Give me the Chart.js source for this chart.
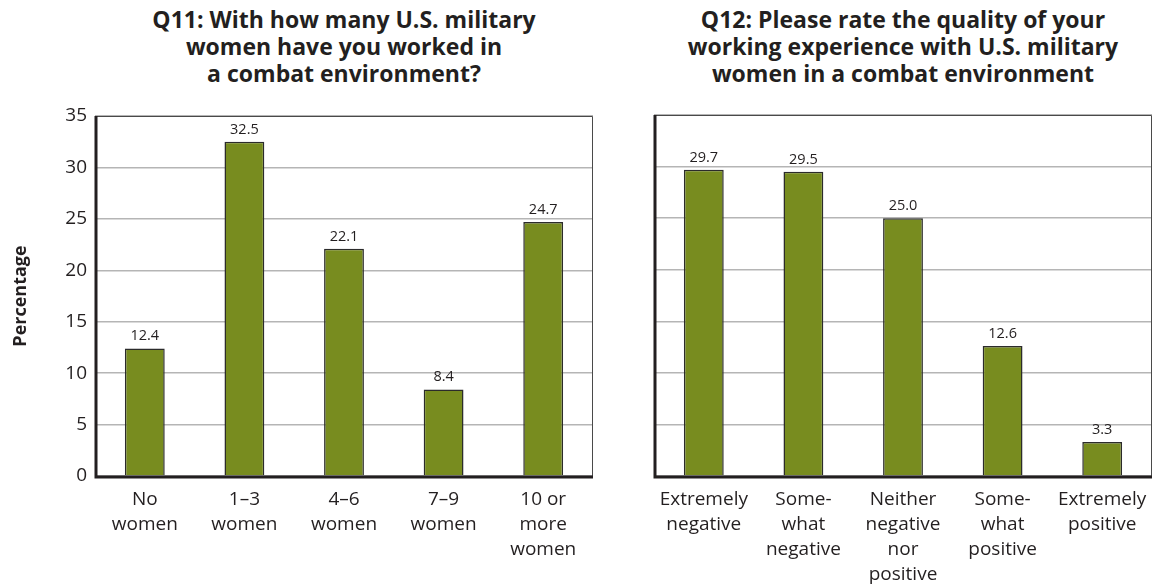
<!DOCTYPE html>
<html>
<head>
<meta charset="utf-8">
<script src="https://cdn.jsdelivr.net/npm/chart.js@4.4.0/dist/chart.umd.min.js"></script>
<style>
  body { margin: 0; background: #fff; width: 1157px; height: 586px; overflow: hidden; position: relative; font-family: "Open Sans", sans-serif; color: #231f20; }
  .title { position: absolute; top: 6px; text-align: center; font-weight: bold; font-size: 23px; line-height: 27px; }
  .box { position: absolute; top: 0; height: 586px; }
</style>
</head>
<body>
<div class="title" style="left:114px; width:460px;">Q11: With how many U.S. military<br>women have you worked in<br>a combat environment?</div>
<div class="title" style="left:653px; width:500px;">Q12: Please rate the quality of your<br>working experience with U.S. military<br>women in a combat environment</div>
<div class="box" style="left:0; width:600px;"><canvas id="q11Chart"></canvas></div>
<div class="box" style="left:600px; width:557px;"><canvas id="q12Chart"></canvas></div>
<script>
// Data
const q11Labels = [['No', 'women'], ['1–3', 'women'], ['4–6', 'women'], ['7–9', 'women'], ['10 or', 'more', 'women']];
const q11Values = [12.4, 32.5, 22.1, 8.4, 24.7];
const q12Labels = [['Extremely', 'negative'], ['Some-', 'what', 'negative'], ['Neither', 'negative', 'nor', 'positive'], ['Some-', 'what', 'positive'], ['Extremely', 'positive']];
const q12Values = [29.7, 29.5, 25.0, 12.6, 3.3];
const yMax = 35;
const yStep = 5;

const textColor = '#231f20';
const barColor = '#788c1f';

// value labels above bars + frame
const barExtras = {
  id: 'barExtras',
  afterDatasetsDraw(chart) {
    const ctx = chart.ctx;
    const area = chart.chartArea;
    ctx.save();
    // thin top / right border
    ctx.strokeStyle = '#4a4a4a';
    ctx.lineWidth = 1;
    ctx.beginPath();
    ctx.moveTo(area.left, area.top + 0.5);
    ctx.lineTo(area.right - 0.5, area.top + 0.5);
    ctx.lineTo(area.right - 0.5, area.bottom);
    ctx.stroke();
    // thick left / bottom axis
    ctx.strokeStyle = textColor;
    ctx.lineWidth = 3;
    ctx.beginPath();
    ctx.moveTo(area.left + 1, area.top);
    ctx.lineTo(area.left + 1, area.bottom + 1);
    ctx.lineTo(area.right, area.bottom + 1);
    ctx.stroke();

    ctx.fillStyle = textColor;
    ctx.font = '14.5px "Open Sans", sans-serif';
    ctx.textAlign = 'center';
    ctx.textBaseline = 'bottom';
    const meta = chart.getDatasetMeta(0);
    meta.data.forEach((bar, i) => {
      const v = chart.data.datasets[0].data[i];
      ctx.fillText(v.toFixed(1), bar.x, bar.y - 5);
    });
    ctx.restore();
  }
};

function makeChart(id, labels, values, showTicks, yWidth, padRight) {
  return new Chart(document.getElementById(id), {
    type: 'bar',
    data: {
      labels: labels,
      datasets: [{
        data: values,
        backgroundColor: barColor,
        borderColor: '#2b2b2b',
        borderWidth: 1.5,
        barPercentage: 0.4,
        categoryPercentage: 1
      }]
    },
    options: {
      responsive: true,
      maintainAspectRatio: false,
      animation: false,
      layout: { padding: { top: showTicks ? 116 : 115, right: padRight, bottom: 0, left: 0 } },
      plugins: {
        legend: { display: false },
        tooltip: { enabled: false }
      },
      scales: {
        x: {
          grid: { display: false },
          border: { display: false },
          ticks: {
            color: textColor,
            font: { family: '"Open Sans", sans-serif', size: 19, lineHeight: 1.32 },
            padding: 3,
            maxRotation: 0,
            autoSkip: false
          },
          afterFit: (scale) => { scale.height = 110; }
        },
        y: {
          min: 0,
          max: yMax,
          ticks: {
            display: showTicks,
            stepSize: yStep,
            color: textColor,
            font: { family: '"Open Sans", sans-serif', size: 19 },
            padding: 8
          },
          grid: { color: '#b5b5b5', lineWidth: 1.5, drawTicks: false },
          border: { display: false },
          title: {
            display: showTicks,
            text: 'Percentage',
            color: textColor,
            padding: { top: 10, bottom: 4 },
            font: { family: '"Open Sans", sans-serif', size: 18, weight: 'bold' }
          },
          afterFit: (scale) => { scale.width = yWidth; }
        }
      }
    },
    plugins: [barExtras]
  });
}

makeChart('q11Chart', q11Labels, q11Values, true, 95, 7);
makeChart('q12Chart', q12Labels, q12Values, false, 54, 5);
</script>
</body>
</html>
